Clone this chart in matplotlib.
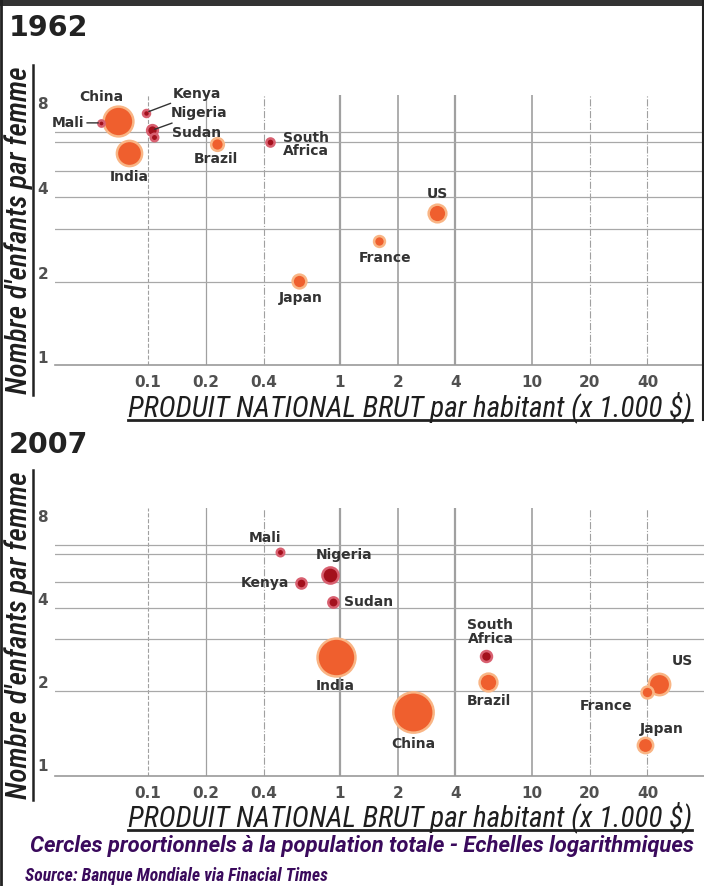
import matplotlib.pyplot as plt
import numpy as np

NARROW = ["Roboto Condensed", "DejaVu Sans"]
WIDE = ["Roboto", "DejaVu Sans"]

# data (GNP per head in k$, children per woman, population M)
countries_1962 = ["China", "India", "US", "Japan", "Brazil", "France",
                  "Nigeria", "South Africa", "Sudan", "Kenya", "Mali"]
gnp_1962 = [0.07, 0.08, 3.2, 0.61, 0.23, 1.6, 0.105, 0.43, 0.107, 0.098, 0.057]
fert_1962 = [6.9, 5.3, 3.25, 1.87, 5.7, 2.6, 6.4, 5.8, 6.05, 7.4, 6.8]
pop_1962 = [665, 450, 187, 95, 76, 47, 46, 17, 12, 9, 5]

countries_2007 = ["China", "India", "US", "Japan", "Brazil", "France",
                  "Nigeria", "South Africa", "Sudan", "Kenya", "Mali"]
gnp_2007 = [2.4, 0.95, 46, 39, 5.9, 40, 0.89, 5.8, 0.92, 0.63, 0.49]
fert_2007 = [1.55, 2.47, 1.97, 1.18, 2.0, 1.83, 4.9, 2.48, 3.9, 4.58, 5.93]
pop_2007 = [1320, 1150, 302, 128, 190, 62, 148, 48, 40, 37, 12]

african = ["Nigeria", "South Africa", "Sudan", "Kenya", "Mali"]

x_ticks = [0.1, 0.2, 0.4, 1, 2, 4, 10, 20, 40]
x_tick_labels = ["0.1", "0.2", "0.4", "1", "2", "4", "10", "20", "40"]
y_ticks = [1, 2, 4, 8]
y_grid = [1.85, 2.85, 3.7, 4.6, 5.8, 6.3]

# label placement: (dx, dy) in pixels from the bubble, ha, leader line
labels_1962 = {
    "China": (-17, -24, "center", False),
    "Mali": (-17, 0, "right", True),
    "Kenya": (26, -19, "left", True),
    "Nigeria": (19, -17, "left", True),
    "Sudan": (18, -4, "left", False),
    "India": (0, 24, "center", False),
    "Brazil": (-2, 15, "center", False),
    "South Africa": (13, 2, "left", False),
    "US": (0, -19, "center", False),
    "France": (6, 17, "center", False),
    "Japan": (2, 17, "center", False),
}
labels_2007 = {
    "Mali": (-15, -14, "center", False),
    "Nigeria": (14, -20, "center", False),
    "Kenya": (-12, 0, "right", False),
    "Sudan": (11, 0, "left", False),
    "India": (0, 29, "center", False),
    "South Africa": (4, -24, "center", False),
    "Brazil": (1, 19, "center", False),
    "China": (0, 32, "center", False),
    "US": (23, -23, "center", False),
    "France": (-41, 14, "center", False),
    "Japan": (16, -16, "center", False),
}

W, H = 704, 886
fig = plt.figure(figsize=(W / 100, H / 100), dpi=100, facecolor="white")
PT = 0.72  # points per pixel


def px_axes(left, top, right, bottom):
    return fig.add_axes([left / W, 1 - bottom / H, (right - left) / W, (bottom - top) / H])


def draw_panel(ax, names_, gnp, fert, pop, labels, ylim):
    ax.set_xscale("log")
    ax.set_yscale("log")
    ax.set_xlim(0.0328, 78.8)
    ax.set_ylim(*ylim)
    for s in ["top", "right", "left"]:
        ax.spines[s].set_visible(False)
    ax.spines["bottom"].set_color("#9a9a9a")
    ax.spines["bottom"].set_linewidth(1.2)
    ax.set_xticks(x_ticks)
    ax.set_xticklabels(x_tick_labels)
    ax.set_yticks(y_ticks)
    ax.set_yticklabels([str(v) for v in y_ticks])
    ax.minorticks_off()
    ax.tick_params(length=0, labelsize=11, labelcolor="#505050")
    for lab in ax.get_xticklabels() + ax.get_yticklabels():
        lab.set_fontweight("bold")
    ax.tick_params(axis="y", pad=5)
    ax.tick_params(axis="x", pad=7)

    styles = ["--", "-", "-.", "-", "-", "-", "-", "-.", "-."]
    widths = [0.8, 0.9, 0.8, 1.6, 1.2, 1.6, 1.2, 0.8, 0.8]
    for xv, ls, lw in zip(x_ticks, styles, widths):
        ax.axvline(xv, color="#a0a0a0", ls=ls, lw=lw, zorder=0)
    for yv in y_grid:
        ax.axhline(yv, color="#a8a8a8", lw=0.9, zorder=0)

    for name, x, y, p in zip(names_, gnp, fert, pop):
        d_px = 4 + np.sqrt(p)
        if name in african:
            fc, ec = "#a3101c", "#d86070"
        else:
            fc, ec = "#ef5f2e", "#f9b585"
        ax.scatter([x], [y], s=(d_px * PT) ** 2, c=fc, edgecolors=ec,
                   linewidths=1.8, zorder=3 if name != "Mali" else 4)
        dx, dy, ha, line = labels[name]
        ax.annotate(name.replace(" ", "\n"), (x, y),
                    xytext=(dx * PT, -dy * PT), textcoords="offset points",
                    ha=ha, va="center", fontsize=10, fontweight="bold",
                    color="#333333", linespacing=0.95, zorder=5,
                    arrowprops=dict(arrowstyle="-", color="#333333", lw=1.0,
                                    shrinkA=0, shrinkB=2) if line else None)


ax1 = px_axes(55, 95, 704, 365)
draw_panel(ax1, countries_1962, gnp_1962, fert_1962, pop_1962, labels_1962, (0.94, 8.54))
ax2 = px_axes(55, 508, 704, 776)
draw_panel(ax2, countries_2007, gnp_2007, fert_2007, pop_2007, labels_2007, (0.91, 8.55))

# titles
fig.text(9 / W, 1 - 28 / H, "1962", fontsize=20.5, fontweight="bold", color="#222222", va="center")
fig.text(9 / W, 1 - 445 / H, "2007", fontsize=20.5, fontweight="bold", color="#222222", va="center")

# axis titles with underline
for yc, y0, y1 in [(230, 65, 395), (635, 470, 800)]:
    fig.text(19 / W, 1 - yc / H, "Nombre d'enfants par femme", rotation=90,
             family=NARROW, style="italic", fontweight="medium", fontsize=21,
             color="#1e1e1e", ha="center", va="center")
    fig.add_artist(plt.Line2D([33 / W, 33 / W], [1 - y0 / H, 1 - y1 / H],
                              color="#222222", lw=1.8))
for yc, yu in [(407, 420), (817, 830)]:
    fig.text(410 / W, 1 - yc / H, "PRODUIT NATIONAL BRUT par habitant (x 1.000 $)",
             family=NARROW, style="italic", fontsize=21, color="#1e1e1e",
             ha="center", va="center")
    fig.add_artist(plt.Line2D([128 / W, 692 / W], [1 - yu / H, 1 - yu / H],
                              color="#222222", lw=2))

# captions
fig.text(30 / W, 1 - 846 / H,
         "Cercles proortionnels \u00e0 la population totale - Echelles logarithmiques",
         family=WIDE, style="italic", fontweight="bold", fontsize=15.8,
         color="#3a0a5c", va="center")
fig.text(25 / W, 1 - 876 / H, "Source: Banque Mondiale via Finacial Times",
         family=NARROW, style="italic", fontweight="bold", fontsize=12.7,
         color="#3a0a5c", va="center")

# frame
fig.add_artist(plt.Rectangle((0, 1 - 6 / H), 1, 6 / H, color="#333333", lw=0))
fig.add_artist(plt.Line2D([1 / W, 1 / W], [0, 1], color="#222222", lw=2))
fig.add_artist(plt.Line2D([703 / W, 703 / W], [1 - 420 / H, 1], color="#222222", lw=1.5))

fig.savefig("out.png", dpi=100, facecolor="white")
